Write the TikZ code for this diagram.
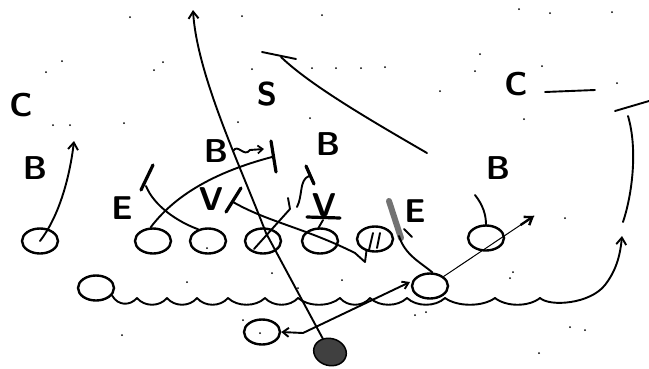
\documentclass[tikz,border=0pt]{standalone}
\usetikzlibrary{shapes.geometric,arrows.meta,calc}
\begin{document}
\begin{tikzpicture}[x=1pt,y=-1pt,
  player/.style={ellipse,draw,line width=2.4pt,minimum width=36pt,minimum height=25pt,inner sep=0pt},
  lbl/.style={font=\fontsize{33}{33}\selectfont\sffamily\bfseries,inner sep=0pt},
  route/.style={line width=1.9pt,line cap=round,line join=round},
  thinroute/.style={line width=1pt,line cap=round},
  blockmark/.style={line width=3.2pt,line cap=round},
  tip/.style={-{Straight Barb[length=7pt,width=10pt,line width=1.9pt]}},
  smalltip/.style={-{Straight Barb[length=5pt,width=8pt,line width=1.7pt]}},
  speck/.style={fill=black,circle,inner sep=0pt,minimum size=2pt}]
\useasboundingbox (0,0) rectangle (649,368);

% players
\node[player] (wr) at (40,241) {};
\node[player] (t1) at (153,241) {};
\node[player] (t2) at (208,241) {};
\node[player] (ce) at (263,241) {};
\node[player] (gd) at (320,241) {};
\node[player] (te) at (375,239) {};
\node[player] (rbr) at (486,238) {};
\node[player] (hb) at (430,286) {};
\node[player] (fb) at (96,288) {};
\node[player] (qb) at (262,332) {};
\node[ellipse,fill=black!75,draw=black,line width=1.5pt,minimum width=33pt,minimum height=27pt,rotate=-15] (ball) at (330,352) {};

% labels
\node[lbl] (cL) at (21,105) {C};
\node[lbl] (bL) at (35,168) {B};
\node[lbl] (eL) at (122,208) {E};
\node[lbl] (vL) at (211,199) {V};
\node[lbl] (bM) at (216,151) {B};
\node[lbl] (sM) at (267,94) {S};
\node[lbl] (bC) at (328,144) {B};
\node[lbl] (vC) at (324,205) {V};
\node[lbl] (eR) at (415,211) {E};
\node[lbl] (cR) at (516,84) {C};
\node[lbl] (bR) at (498,168) {B};

% free ends
\coordinate (qbtip) at (193,10);
\coordinate (wrtip) at (74,141);
\coordinate (bar1) at (272,157);
\coordinate (t2end) at (146,186);
\coordinate (rbtip) at (534,216);
\coordinate (hbtip) at (410,282);
\coordinate (rtip) at (622,236);

% QB long route
\draw[route,tip] (ball) -- (266,233) .. controls (240,165) and (197,75) .. (qbtip);

% safety
\draw[route] (262,52) -- (296,59);
\draw[route] (281,57) .. controls (310,85) and (370,120) .. (427,153);

% left receiver
\draw[route,tip] (wr.center) .. controls (60,215) and (70,175) .. (wrtip);

% tackle block
\draw[route] (t1.100) .. controls (175,195) and (215,172) .. (bar1);
\draw[blockmark] (271,141) -- (276,172);
\draw[route,smalltip] (233,151) .. controls (238,143) and (244,158) .. (250,150) -- (264,149);

% guard
\draw[route] (t2.130) .. controls (178,222) and (154,206) .. (t2end);
\draw[blockmark] (141,190) -- (153,165);

% V slash line
\draw[blockmark] (226,212) -- (241,188);
\draw[route] (233,202) .. controls (268,222) and (305,228) .. (355,253) -- (365,262) -- (te.235);

% center
\draw[route] ($(ce.center)+(-9,8)$) -- (290,209) -- (288,198);
\draw[route] (297,207) .. controls (303,195) and (299,180) .. (309,176);
\draw[blockmark] (306,166) -- (314,184);

% V on bar
\draw[blockmark] (307,217) -- (340,218);
\draw[route] (323,220) -- (gd.95);

% tight end marks
\draw[route] (369,250) -- (373,233);
\draw[route] (377,248) -- (380,233);

% right E block
\draw[line width=6pt,black!55,line cap=round] (389,201) -- (401,238);
\draw[route] (399,236) .. controls (405,255) and (420,262) .. (hb.80);
\draw[route] (404,229) -- (412,237);

% halfback to right back
\draw[thinroute] (hb.35) -- (rbtip);
\draw[line width=2.4pt,-{Straight Barb[length=7pt,width=10pt,line width=2.4pt]}] ($(rbtip)!0.15!(hb.35)$) -- (rbtip);
\draw[route] (475,195) .. controls (483,205) and (486,215) .. (rbr.north);

% pitch line
\draw[route,{Straight Barb[length=6pt,width=9pt,line width=1.9pt]}-{Straight Barb[length=6pt,width=8pt,line width=1.9pt]}] (qb.east) -- (303,333) -- (hbtip);

% wavy line
\draw[route] (fb.335) .. controls (118,306) and (130,306) .. (137,298);
\foreach \a/\b in {137/167,167/197,197/228,228/265,265/298,298/340,340/370,370/407,407/445,445/495,495/540}
  \draw[route] (\a,298) .. controls ({\a+(\b-\a)*0.25},307) and ({\b-(\b-\a)*0.25},307) .. (\b,298);
\draw[route,tip] (540,298) .. controls (550,307) and (590,304) .. (605,285) .. controls (615,272) and (620,258) .. (rtip);

% right bracket
\draw[route] (615,111) -- (649,101);
\draw[route] (628,116) .. controls (638,150) and (632,195) .. (623,222);

% corner line
\draw[route] (545,92) -- (595,90);

% specks
\foreach \p in {(130,17),(62,61),(46,72),(154,70),(163,62),(53,125),(70,125),(124,123),(242,16),(322,15),(252,69),(312,68),(238,122),(310,118),(336,68),(361,68),(385,67),(440,91),(519,9),(550,13),(612,12),(480,54),(475,71),(542,66),(617,83),(524,119),(187,282),(122,335),(260,333),(243,320),(272,273),(298,288),(207,248),(342,280),(565,218),(513,272),(510,278),(415,315),(426,312),(570,327),(585,330),(539,353)}
  \node[speck] at \p {};
\end{tikzpicture}
\end{document}
